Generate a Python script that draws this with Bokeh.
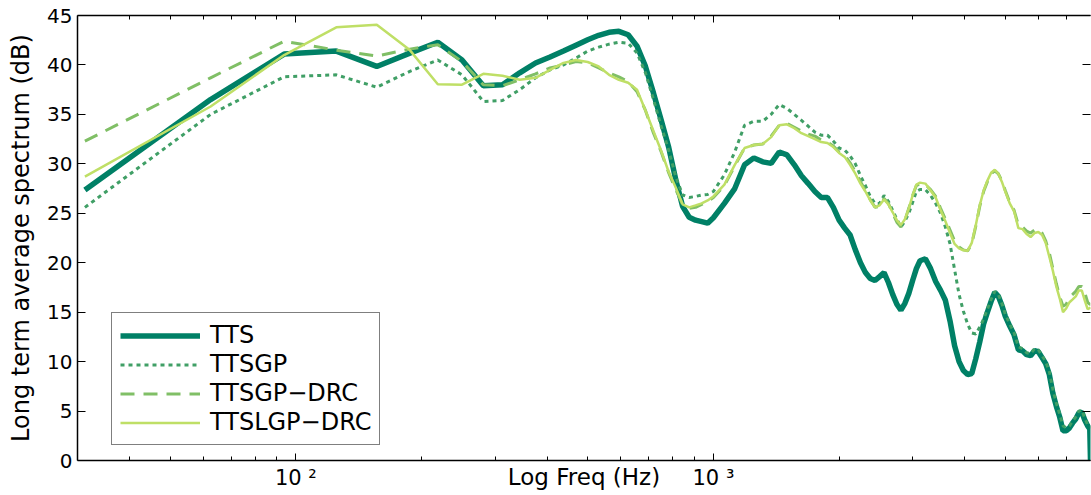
from bokeh.plotting import figure
from bokeh.models import FixedTicker, LogAxis, LinearAxis, Legend, LegendItem, Range1d
from bokeh.embed import file_html
from bokeh.resources import INLINE

FONT = "DejaVu Sans"

FREQ = [31.25, 62.5, 93.75, 125, 156.25, 187.5, 218.75, 250, 281.25, 312.5, 343.75, 375,
        406.25, 437.5, 468.75, 500, 531.25, 562.5, 593.75, 625, 656.25, 687.5, 718.75, 750,
        781.25, 812.5, 843.75, 875, 906.25, 937.5, 968.75, 1000,
        1062.5, 1125, 1187.5, 1250, 1312.5, 1375, 1437.5, 1500, 1562.5,
        1625, 1687.5, 1750, 1812.5, 1875, 1937.5, 2000, 2062.5, 2125, 2187.5, 2250, 2312.5,
        2375, 2437.5, 2500, 2562.5, 2625, 2687.5, 2750, 2812.5, 2875, 2937.5, 3000, 3062.5, 3125,
        3218.75, 3312.5, 3406.25, 3500, 3593.75, 3687.5, 3781.25, 3875, 3968.75, 4062.5,
        4156.25, 4250, 4343.75, 4437.5, 4531.25, 4625, 4718.75, 4812.5, 4906.25, 5000,
        5125, 5250, 5375, 5500, 5625, 5750, 5875, 6000, 6125, 6250, 6375, 6500, 6625, 6750,
        6875, 7000, 7125, 7250, 7375, 7500, 7625, 7750, 7875,
        7968.75, 8000]

TTS = [27.35, 36.5, 41.1, 41.4, 39.85, 41.2, 42.3, 40.5, 37.9, 38.0, 39.2, 40.2, 40.8, 41.4,
       42.0, 42.55, 43.0, 43.3, 43.4, 43.05, 41.9, 39.85, 37.15, 34.4, 31.7, 28.4, 25.7, 24.6,
       24.3, 24.15, 24.0, 24.55,
       26.0, 27.5, 29.9, 30.6, 30.2, 30.05, 31.2, 30.9, 29.9,
       28.8, 28.0, 27.2, 26.6, 26.6, 25.6, 24.3, 23.5, 22.8, 21.3, 20.0, 19.0, 18.4, 18.2, 18.6,
       19.0, 18.0, 16.8, 15.8, 15.2, 15.9, 16.9, 18.2, 19.4, 20.2,
       20.4, 19.4, 18.1, 17.2, 16.2, 14.1, 11.6, 10.0, 9.1, 8.7, 8.8, 10.3, 12.0, 13.8, 15.0,
       16.1, 17.0, 16.6, 15.7, 14.6,
       13.6, 12.7, 11.2, 11.1, 10.7, 10.6, 11.1, 11.0, 10.4, 9.8, 8.7, 6.8, 5.5, 4.4, 3.0, 3.0,
       3.3, 3.8, 4.2, 4.8, 4.9, 4.1, 3.5,
       3.2, 0.0]

TTSGP = [25.6, 35.0, 38.8, 39.0, 37.75, 39.35, 40.5, 39.0, 36.3, 36.4, 37.5, 38.7, 39.5, 40.0,
         40.7, 41.4, 41.8, 42.1, 42.3, 42.2, 41.2, 39.2, 36.5, 33.8, 31.4, 28.7, 26.85, 26.6,
         26.7, 26.85, 26.9, 27.2,
         28.9, 31.2, 33.9, 34.3, 34.3, 35.0, 36.0, 35.6, 35.0,
         34.4, 33.8, 33.2, 32.9, 32.9, 32.3, 31.6, 31.4, 30.8, 30.0, 28.8, 27.8, 26.7, 26.0,
         26.0, 26.8, 26.2, 25.3, 24.4, 23.6, 24.2, 25.0, 26.1, 27.2, 27.4,
         27.4, 26.8, 26.0, 25.0, 23.6, 21.9, 19.3, 16.8, 15.1, 13.8, 12.9, 12.8, 13.5, 14.3,
         15.3, 16.3, 17.1, 16.8, 15.9, 14.8,
         13.8, 12.9, 11.5, 11.3, 10.9, 10.8, 11.3, 11.2, 10.6, 10.0, 9.0, 7.2, 5.8, 4.7, 3.5,
         3.3, 3.5, 4.0, 4.4, 5.0, 5.1, 4.3, 3.6,
         3.4, 3.4]

TTSGP_DRC = [32.3, 38.7, 42.4, 41.5, 40.9, 41.6, 42.05, 40.35, 38.0, 37.9, 38.5, 39.1, 39.7,
             40.0, 40.35, 40.2, 39.7, 39.2, 38.8, 38.3, 37.3, 35.4, 33.1, 31.2, 29.1, 27.4,
             25.9, 25.5, 25.6, 25.9, 26.2, 26.6,
             27.8, 29.8, 31.6, 31.9, 32.0, 32.8, 33.9, 34.1, 33.7,
             33.3, 33.0, 32.8, 32.4, 32.2, 31.8, 31.2, 30.9, 30.1, 29.2, 28.2, 27.3, 26.4, 25.6,
             25.7, 26.5, 26.0, 25.0, 24.1, 23.6, 24.3, 25.5, 26.8, 27.8, 28.0,
             27.9, 27.4, 26.7, 25.5, 24.4, 23.3, 22.2, 21.6, 21.3, 21.2, 21.9, 23.7, 25.7, 27.2,
             28.2, 29.0, 29.3, 29.0, 28.3, 27.3,
             26.1, 25.3, 23.8, 23.6, 23.2, 23.0, 23.3, 23.4, 23.0, 22.2, 21.0, 19.4, 17.9, 16.6,
             15.6, 15.8, 16.5, 16.8, 17.1, 17.6, 17.6, 17.0, 16.0,
             15.8, 15.8]

TTSLGP_DRC = [28.7, 35.8, 41.0, 43.8, 44.07, 41.5, 38.05, 38.0, 39.1, 38.9, 38.5, 38.7, 39.5,
              40.2, 40.5, 40.3, 39.85, 39.0, 38.5, 38.2, 37.5, 35.4, 33.3, 31.3, 29.2, 27.6,
              25.9, 25.6, 25.8, 26.0, 26.3, 26.7,
              27.9, 29.9, 31.6, 31.9, 32.0, 32.7, 33.9, 34.0, 33.6,
              33.1, 32.8, 32.5, 32.2, 32.1, 31.7, 31.1, 30.7, 29.9, 29.0, 28.0, 27.2, 26.3, 25.6,
              25.8, 26.4, 25.9, 25.1, 24.3, 23.8, 24.4, 25.5, 26.8, 27.9, 28.1,
              28.0, 27.3, 26.6, 25.3, 24.2, 23.0, 21.9, 21.45, 21.25, 21.2, 22.0, 23.8, 25.8,
              27.3, 28.3, 29.1, 29.4, 29.0, 28.2, 27.2,
              26.0, 25.2, 23.5, 23.4, 22.9, 22.6, 23.0, 23.1, 22.8, 22.0, 20.6, 19.2, 17.6, 16.4,
              15.0, 15.4, 16.0, 16.3, 16.6, 17.2, 17.2, 16.2, 15.3,
              15.4, 15.5]

SERIES = ["TTS", "TTSGP", "TTSGP\u2212DRC", "TTSLGP\u2212DRC"]
COLORS = ["#008066", "#409F66", "#80BF66", "#BFDF66"]

X_MAJOR = [100, 1000]
X_MINOR = [40, 50, 60, 70, 80, 90, 200, 300, 400, 500, 600, 700, 800, 900,
           2000, 3000, 4000, 5000, 6000, 7000]
X_LABELS = {100: "10 \u00b2", 1000: "10 \u00b3"}
Y_TICKS = [0, 5, 10, 15, 20, 25, 30, 35, 40, 45]

p = figure(width=1091, height=495, x_axis_type="log",
           x_range=Range1d(30, 8000), y_range=Range1d(0, 45),
           output_backend="svg", toolbar_location=None,
           min_border_left=77, min_border_right=1, min_border_top=15, min_border_bottom=35,
           outline_line_color=None, background_fill_color="white", border_fill_color="white")
p.grid.visible = False

xt = FixedTicker(ticks=X_MAJOR, minor_ticks=X_MINOR)
yt = FixedTicker(ticks=Y_TICKS)

def style_axis(ax, labels=True):
    ax.axis_line_color = "black"
    ax.axis_line_width = 1.5
    ax.major_tick_line_color = "black"
    ax.minor_tick_line_color = "black"
    ax.major_tick_out = 0
    ax.minor_tick_out = 0
    ax.major_label_text_font = FONT
    ax.major_label_text_color = "black"
    if not labels:
        ax.major_label_text_font_size = "2px"
        ax.major_label_text_color = None
        ax.major_label_standoff = 0

xa = p.xaxis[0]
xa.ticker = xt
style_axis(xa)
xa.major_tick_in = 7
xa.minor_tick_in = 4
xa.major_label_overrides = X_LABELS
xa.major_label_text_font_size = "21px"
xa.major_label_standoff = 5
xa.axis_label = "Log Freq (Hz)"
xa.axis_label_text_font = FONT
xa.axis_label_text_font_style = "normal"
xa.axis_label_text_font_size = "23px"
xa.axis_label_text_color = "black"
xa.axis_label_standoff = -29

ya = p.yaxis[0]
ya.ticker = yt
style_axis(ya)
ya.major_tick_in = 8
ya.minor_tick_in = 0
ya.major_label_text_font_size = "20px"
ya.major_label_standoff = 5
ya.axis_label = "Long term average spectrum (dB)"
ya.axis_label_text_font = FONT
ya.axis_label_text_font_style = "normal"
ya.axis_label_text_font_size = "24px"
ya.axis_label_text_color = "black"
ya.axis_label_standoff = 9

top = LogAxis(ticker=xt)
style_axis(top, labels=False)
top.major_tick_in = 7
top.minor_tick_in = 4
p.add_layout(top, "above")

right = LinearAxis(ticker=yt)
style_axis(right, labels=False)
right.major_tick_in = 8
right.minor_tick_in = 0
right.axis_line_color = None
p.add_layout(right, "right")

r1 = p.line(FREQ, TTS, line_color=COLORS[0], line_width=5.5)
r2 = p.line(FREQ, TTSGP, line_color=COLORS[1], line_width=3, line_dash="4 4")
r3 = p.line(FREQ, TTSGP_DRC, line_color=COLORS[2], line_width=3, line_dash="14 9")
r4 = p.line(FREQ, TTSLGP_DRC, line_color=COLORS[3], line_width=2.5)

legend = Legend(items=[LegendItem(label=SERIES[i], renderers=[r]) for i, r in enumerate([r1, r2, r3, r4])],
                location=(34, 15))
legend.label_text_font = FONT
legend.label_text_font_size = "24px"
legend.label_text_color = "black"
legend.border_line_color = "black"
legend.border_line_width = 1.5
legend.background_fill_alpha = 1
legend.padding = 8
legend.spacing = 1
legend.margin = 0
legend.glyph_width = 80
legend.glyph_height = 25
legend.label_height = 25
legend.label_standoff = 10
p.add_layout(legend)

open("out.html", "w").write(file_html(p, INLINE))
